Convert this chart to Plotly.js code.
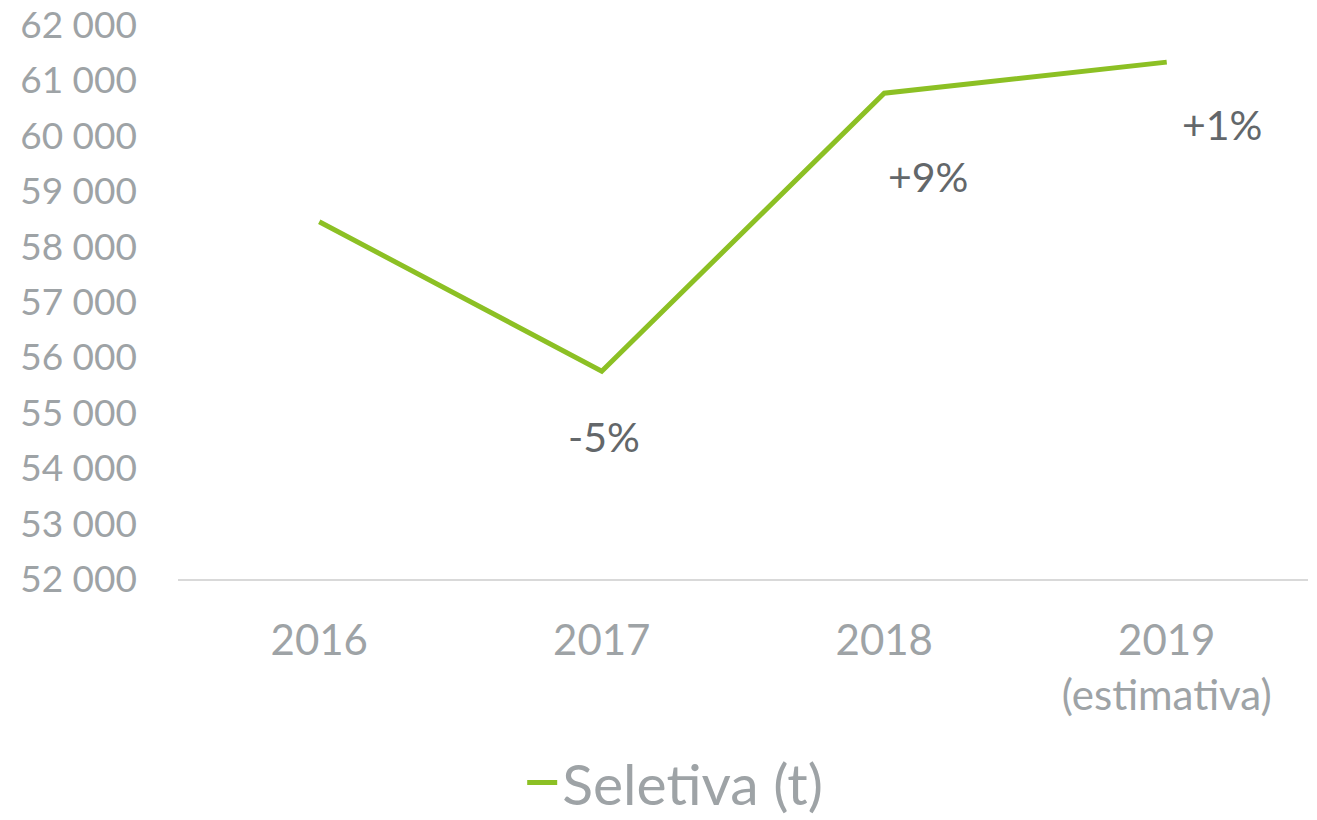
<!DOCTYPE html>
<html>
<head>
<meta charset="utf-8">
<script src="https://cdn.plot.ly/plotly-3.0.1.min.js"></script>
<style>html,body{margin:0;padding:0;background:#fff;}#chart{width:1317px;height:820px;}</style>
</head>
<body>
<div id="chart"></div>
<script>
const categories = ["2016", "2017", "2018", "2019<br>(estimativa)"];
const seletiva = [58450, 55750, 60770, 61330];
const changeLabels = ["", "-5%", "+9%", "+1%"];
const seriesName = "Seletiva (t)";

const xIdx = categories.map((c, i) => i);
const labelOffsets = [[0, 0], [2, -65], [44, -83], [55, -62]];

const annotations = [];
changeLabels.forEach((t, i) => {
  if (!t) return;
  annotations.push({
    x: xIdx[i], y: seletiva[i], xref: 'x', yref: 'y',
    text: t, showarrow: false,
    xshift: labelOffsets[i][0], yshift: labelOffsets[i][1],
    font: {family: 'Lato, "Open Sans", sans-serif', size: 41, color: '#63676a'}
  });
});

const trace = {
  x: xIdx, y: seletiva, type: 'scatter', mode: 'lines',
  name: seriesName,
  line: {color: '#8cc024', width: 5}
};

const layout = {
  width: 1317, height: 820,
  margin: {l: 178, r: 9, t: 25, b: 241, autoexpand: false},
  paper_bgcolor: '#fff', plot_bgcolor: '#fff',
  separators: '. ',
  font: {family: 'Lato, "Open Sans", sans-serif', color: '#9ea3a6'},
  showlegend: true,
  legend: {
    orientation: 'h', xref: 'paper', yref: 'paper',
    x: 0.44, xanchor: 'center', y: -0.368, yanchor: 'middle',
    font: {size: 57, color: '#9ea3a6'}
  },
  xaxis: {
    type: 'linear', range: [-0.5, 3.5], showgrid: false, zeroline: false,
    showline: true, linecolor: '#d9d9d9', linewidth: 2,
    tickmode: 'array', tickvals: xIdx, ticktext: categories,
    ticks: '', ticklabelstandoff: 24,
    tickfont: {size: 42, color: '#9ea3a6'}
  },
  yaxis: {
    range: [52000, 62000], dtick: 1000, tickformat: ',d',
    showgrid: false, zeroline: false, showline: false,
    ticks: '', ticklabelstandoff: 40,
    tickfont: {size: 37, color: '#9ea3a6'}
  },
  annotations: annotations
};

Plotly.newPlot('chart', [trace], layout, {displayModeBar: false, responsive: false});
</script>
</body>
</html>
